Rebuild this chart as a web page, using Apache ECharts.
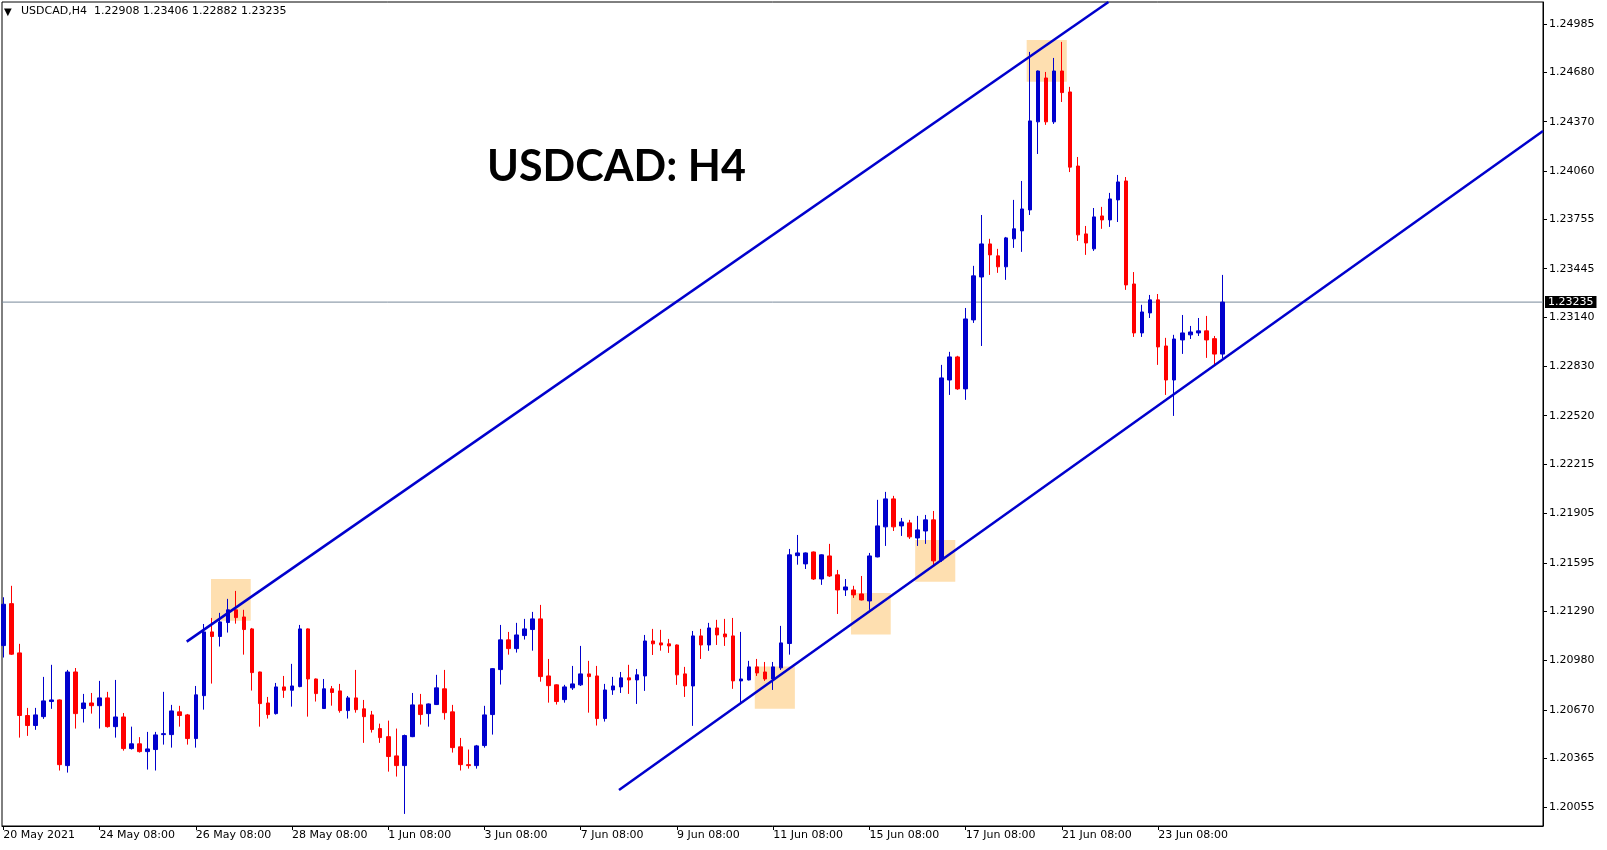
<!DOCTYPE html>
<html>
<head>
<meta charset="utf-8">
<script src="https://cdn.jsdelivr.net/npm/echarts@6/dist/echarts.min.js"></script>
<style>
html,body{margin:0;padding:0;background:#fff;}
#chart{width:1607px;height:850px;}
</style>
</head>
<body>
<div id="chart"></div>
<script>
// ---- data (USDCAD H4, bars indexed from the first visible bar) ----
const xLabels = ["20 May 2021","24 May 08:00","26 May 08:00","28 May 08:00","1 Jun 08:00","3 Jun 08:00","7 Jun 08:00","9 Jun 08:00","11 Jun 08:00","15 Jun 08:00","17 Jun 08:00","21 Jun 08:00","23 Jun 08:00"];
const xLabelBars = [0,12,24,36,48,60,72,84,96,108,120,132,144];
const yTicks = [1.20055,1.20365,1.20670,1.20980,1.21290,1.21595,1.21905,1.22215,1.22520,1.22830,1.23140,1.23445,1.23755,1.24060,1.24370,1.24680,1.24985];

const open = [1.21074,1.21338,1.21028,1.20634,1.20571,1.20627,1.20722,1.20732,1.20319,1.20908,
1.20678,1.20713,1.20696,1.20745,1.20564,1.20625,1.20426,1.20456,1.20407,1.20420,
1.20514,1.20514,1.20657,1.20638,1.20489,1.20759,1.21160,1.21131,1.21219,1.21299,
1.21254,1.21179,1.20908,1.20713,1.20646,1.20814,1.20793,1.20816,1.21179,1.20864,
1.20678,1.20802,1.20789,1.20665,1.20745,1.20676,1.20638,1.20552,1.20501,1.20380,
1.20319,1.20501,1.20701,1.20646,1.20703,1.20802,1.20657,1.20437,1.20325,1.20319,
1.20445,1.20640,1.20923,1.21110,1.21055,1.21137,1.21175,1.21242,1.20883,1.20827,
1.20734,1.20808,1.20827,1.20896,1.20883,1.20615,1.20795,1.20814,1.20871,1.20858,
1.20883,1.21103,1.21091,1.21085,1.21078,1.20896,1.20820,1.21135,1.21078,1.21185,
1.21147,1.21135,1.20852,1.20858,1.20940,1.20908,1.20864,1.20934,1.21087,1.21640,
1.21588,1.21663,1.21493,1.21638,1.21519,1.21424,1.21424,1.21399,1.21355,1.21632,
1.21821,1.21997,1.21827,1.21846,1.21751,1.21795,1.21865,1.21613,1.22745,1.22890,
1.22689,1.23123,1.23393,1.23601,1.23526,1.23457,1.23633,1.23683,1.23815,1.24369,
1.24645,1.24369,1.24689,1.24557,1.24091,1.23664,1.23570,1.23777,1.23752,1.23878,
1.23997,1.23349,1.23041,1.23167,1.23249,1.22959,1.22745,1.22997,1.23029,1.23041,
1.23054,1.23005,1.22908];
const high = [1.21378,1.21450,1.21085,1.20682,1.20682,1.20877,1.20953,1.20735,1.20921,1.20933,
1.20770,1.20776,1.20852,1.20783,1.20858,1.20650,1.20564,1.20498,1.20531,1.20531,
1.20783,1.20701,1.20695,1.20644,1.20820,1.21210,1.21248,1.21280,1.21368,1.21418,
1.21299,1.21185,1.20910,1.20751,1.20839,1.20883,1.20959,1.21204,1.21182,1.20867,
1.20864,1.20820,1.20833,1.20757,1.20921,1.20732,1.20663,1.20583,1.20602,1.20552,
1.20514,1.20776,1.20770,1.20710,1.20890,1.20921,1.20701,1.20493,1.20420,1.20449,
1.20695,1.20933,1.21204,1.21160,1.21217,1.21242,1.21286,1.21330,1.20990,1.20830,
1.20827,1.20946,1.21072,1.20978,1.20946,1.20833,1.20877,1.20908,1.20953,1.20927,
1.21141,1.21179,1.21173,1.21116,1.21081,1.20940,1.21166,1.21179,1.21217,1.21236,
1.21242,1.21248,1.21160,1.20978,1.20990,1.20971,1.20971,1.21198,1.21682,1.21770,
1.21660,1.21666,1.21648,1.21714,1.21550,1.21493,1.21450,1.21512,1.21657,1.21991,
1.22041,1.22016,1.21877,1.21865,1.21890,1.21896,1.21921,1.22840,1.22922,1.22897,
1.23198,1.23463,1.23783,1.23633,1.23570,1.23645,1.23878,1.23997,1.24809,1.24692,
1.24683,1.24771,1.24872,1.24589,1.24148,1.23714,1.23827,1.23834,1.23922,1.24035,
1.24022,1.23424,1.23218,1.23280,1.23286,1.23010,1.23029,1.23154,1.23085,1.23135,
1.23148,1.23022,1.23406];
const low = [1.20999,1.21015,1.20495,1.20506,1.20544,1.20613,1.20676,1.20288,1.20275,1.20552,
1.20590,1.20646,1.20552,1.20558,1.20495,1.20413,1.20420,1.20401,1.20294,1.20288,
1.20451,1.20432,1.20564,1.20451,1.20432,1.20671,1.20835,1.21068,1.21156,1.21212,
1.21017,1.20791,1.20564,1.20615,1.20640,1.20745,1.20690,1.20812,1.20627,1.20722,
1.20675,1.20696,1.20652,1.20615,1.20652,1.20462,1.20527,1.20462,1.20281,1.20250,
1.20015,1.20498,1.20577,1.20564,1.20700,1.20608,1.20401,1.20288,1.20300,1.20300,
1.20432,1.20514,1.20829,1.21017,1.21030,1.21112,1.21042,1.20847,1.20715,1.20703,
1.20715,1.20795,1.20820,1.20652,1.20571,1.20596,1.20764,1.20776,1.20770,1.20707,
1.20789,1.21015,1.21042,1.21028,1.20827,1.20751,1.20569,1.20990,1.21041,1.21078,
1.21072,1.20802,1.20713,1.20855,1.20883,1.20852,1.20795,1.20921,1.21017,1.21583,
1.21556,1.21487,1.21456,1.21506,1.21273,1.21386,1.21374,1.21358,1.21299,1.21629,
1.21701,1.21795,1.21764,1.21745,1.21701,1.21714,1.21576,1.21601,1.22651,1.22683,
1.22620,1.23104,1.22959,1.23406,1.23419,1.23375,1.23576,1.23551,1.23783,1.24167,
1.24350,1.24356,1.24494,1.24053,1.23620,1.23532,1.23557,1.23696,1.23708,1.23739,
1.23312,1.23016,1.23016,1.23135,1.22840,1.22651,1.22519,1.22909,1.23003,1.23022,
1.22884,1.22834,1.22882];
const close = [1.21334,1.21020,1.20634,1.20571,1.20638,1.20726,1.20732,1.20325,1.20908,1.20646,
1.20713,1.20696,1.20745,1.20564,1.20625,1.20426,1.20456,1.20407,1.20424,1.20512,
1.20520,1.20663,1.20634,1.20489,1.20764,1.21160,1.21131,1.21223,1.21299,1.21250,
1.21175,1.20904,1.20709,1.20640,1.20814,1.20793,1.20820,1.21179,1.20864,1.20772,
1.20802,1.20779,1.20665,1.20745,1.20671,1.20627,1.20546,1.20495,1.20376,1.20319,
1.20508,1.20701,1.20640,1.20707,1.20808,1.20652,1.20432,1.20325,1.20319,1.20443,
1.20638,1.20929,1.21110,1.21055,1.21141,1.21179,1.21242,1.20879,1.20822,1.20722,
1.20814,1.20833,1.20896,1.20879,1.20615,1.20795,1.20820,1.20871,1.20858,1.20890,
1.21103,1.21085,1.21078,1.21072,1.20890,1.20820,1.21135,1.21078,1.21185,1.21141,
1.21129,1.20852,1.20864,1.20940,1.20902,1.20864,1.20940,1.21091,1.21645,1.21657,
1.21657,1.21493,1.21645,1.21512,1.21424,1.21443,1.21393,1.21361,1.21638,1.21827,
1.21997,1.21821,1.21852,1.21758,1.21802,1.21865,1.21607,1.22758,1.22890,1.22689,
1.23129,1.23400,1.23601,1.23532,1.23457,1.23639,1.23696,1.23821,1.24375,1.24689,
1.24369,1.24689,1.24553,1.24084,1.23658,1.23607,1.23771,1.23752,1.23884,1.23991,
1.23343,1.23041,1.23173,1.23249,1.22953,1.22745,1.23003,1.23041,1.23047,1.23054,
1.22997,1.22908,1.23235];

const lastPrice = 1.23235;
const headerText = "USDCAD,H4  1.22908 1.23406 1.22882 1.23235";
const titleText = "USDCAD: H4";

// visible bar range of the time axis
const xRange = [-0.16, 191.98];
// channel lines: [bar, price]
const upperChannel = [[22.87, 1.21099], [137.8, 1.25123]];
const lowerChannel = [[76.77, 1.20166], [191.98, 1.24312]];

// highlight boxes: [barFrom, priceTop, barTo, priceBottom]
const boxes = [
  [25.9, 1.21493, 30.85, 1.21231],
  [93.7, 1.20942, 98.7, 1.20677],
  [105.7, 1.21405, 110.65, 1.21143],
  [113.7, 1.21739, 118.7, 1.21476],
  [127.6, 1.24884, 132.6, 1.24622]
];

// ---- chart ----
const BLUE = '#0000cd';
const RED = '#ff0000';
const FONT = 'DejaVu Sans';

const candleData = open.map((o, i) => [i, o, close[i], low[i], high[i]]);

const chart = echarts.init(document.getElementById('chart'), null, {renderer: 'canvas'});
chart.setOption({
  animation: false,
  backgroundColor: '#ffffff',
  grid: {left: 2, right: 64, top: 2, bottom: 24, show: true, borderColor: '#000', borderWidth: 1, backgroundColor: 'transparent'},
  xAxis: {
    type: 'value', min: xRange[0], max: xRange[1],
    splitLine: {show: false},
    axisLine: {show: true, onZero: false, lineStyle: {color: '#000', width: 1}},
    axisTick: {show: true, customValues: xLabelBars, length: 4, lineStyle: {color: '#000'}},
    axisLabel: {
      customValues: xLabelBars, align: 'left', margin: 4,
      color: '#000', fontFamily: FONT, fontSize: 11,
      formatter: v => xLabels[xLabelBars.indexOf(Math.round(v))] || ''
    }
  },
  yAxis: {
    type: 'value', position: 'right', min: 1.19939, max: 1.25123, scale: true,
    splitLine: {show: false},
    axisLine: {show: true, onZero: false, lineStyle: {color: '#000', width: 1}},
    axisTick: {show: true, customValues: yTicks, length: 4, lineStyle: {color: '#000'}},
    axisLabel: {
      customValues: yTicks, margin: 6, color: '#000', fontFamily: FONT, fontSize: 11,
      formatter: v => Number(v).toFixed(5)
    }
  },
  graphic: [
    {type: 'text', left: 4, top: 7, z: 100, style: {text: '\u25BC', font: '10px ' + FONT, fill: '#000'}},
    {type: 'text', left: 21, top: 6, z: 100, style: {text: headerText, font: '11px ' + FONT, fill: '#000'}},
    {type: 'text', x: 487, y: 167, z: 100, style: {text: titleText, font: 'bold 43px Lato', fill: '#000', textVerticalAlign: 'middle'}}
  ],
  series: [
    {
      type: 'line', data: [], z: 1, silent: true,
      markArea: {
        silent: true,
        itemStyle: {color: '#fedfb0', opacity: 1},
        data: boxes.map(b => [{coord: [b[0], b[1]]}, {coord: [b[2], b[3]]}])
      }
    },
    {
      type: 'line', z: 2, silent: true, symbol: 'none', clip: false,
      data: [[xRange[0], lastPrice], [xRange[1], lastPrice]],
      lineStyle: {color: '#778899', width: 1},
      endLabel: {
        show: true, distance: 2,
        formatter: lastPrice.toFixed(5),
        color: '#fff', backgroundColor: '#000', padding: [1, 3, 0, 3],
        fontFamily: FONT, fontSize: 11
      }
    },
    {
      type: 'candlestick', z: 3,
      data: candleData,
      encode: {x: 0, y: [1, 2, 3, 4]},
      barWidth: 4,
      clip: true,
      itemStyle: {color: BLUE, color0: RED, borderColor: BLUE, borderColor0: RED, borderWidth: 1}
    },
    {
      type: 'line', z: 4, data: upperChannel, symbol: 'none', clip: true,
      lineStyle: {color: BLUE, width: 2.5}
    },
    {
      type: 'line', z: 4, data: lowerChannel, symbol: 'none', clip: true,
      lineStyle: {color: BLUE, width: 2.5}
    }
  ]
});
</script>
</body>
</html>
